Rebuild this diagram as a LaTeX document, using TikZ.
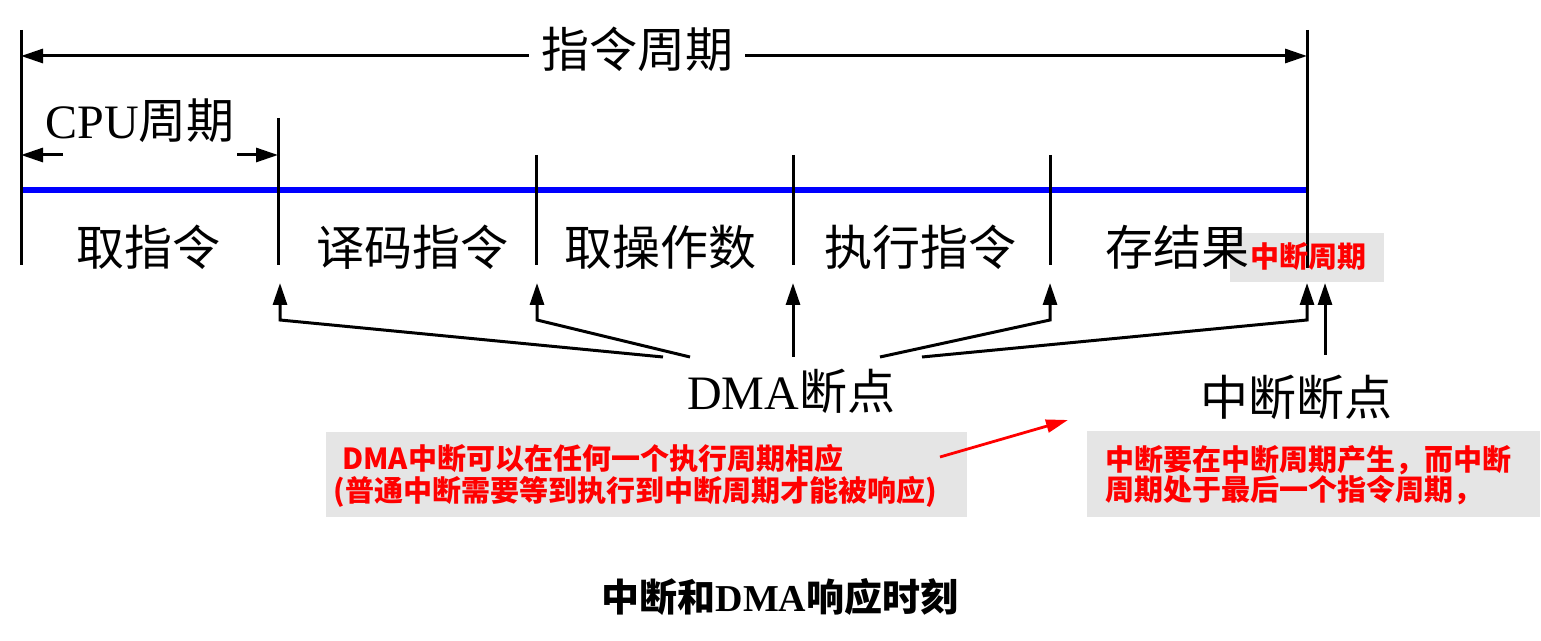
\documentclass[tikz,border=0pt]{standalone}
\usepackage{fontspec}
\setmainfont{Liberation Serif}
\newfontfamily\cjk{Noto Sans CJK SC}
\usetikzlibrary{arrows.meta}
\begin{document}
\begin{tikzpicture}[x=0.5pt,y=-0.5pt,
  big/.style={font=\fontsize{24}{28}\selectfont, inner sep=0pt},
  ln/.style={line width=1.5pt},
  arr/.style={ln,-{Triangle[length=11pt,width=7pt]}},
  redarr/.style={line width=1.4pt,red,-{Triangle[length=11pt,width=6.5pt]}},
  redtxt/.style={text=red,font=\cjk\bfseries\fontsize{14.5}{17}\selectfont, inner sep=0pt},
  graybg/.style={fill=black!10, draw=none, inner sep=0pt}
]
\useasboundingbox (0,0) rectangle (1541,641);

% gray backgrounds
\node[graybg, minimum width=77pt, minimum height=24.5pt] (gint) at (1307,257.5) {};
\node[graybg, minimum width=320.5pt, minimum height=42.5pt] (box1) at (646.5,474.5) {};
\node[graybg, minimum width=226.5pt, minimum height=43pt] (box2) at (1313.5,474) {};

% time line
\coordinate (L) at (21,190);
\coordinate (R) at (1307,190);
\draw[blue, line width=3pt] (L) -- (R);

% vertical boundaries
\coordinate (v0t) at (21,30);   \coordinate (v0b) at (21,265);
\coordinate (v1t) at (278,118); \coordinate (v1b) at (278,265);
\coordinate (v2t) at (536,155); \coordinate (v2b) at (536,265);
\coordinate (v3t) at (793,155); \coordinate (v3b) at (793,265);
\coordinate (v4t) at (1050,155);\coordinate (v4b) at (1050,265);
\coordinate (v5t) at (1307,30); \coordinate (v5b) at (1307,268);
\foreach \i in {0,...,5} {\draw[ln] (v\i t) -- (v\i b);}

% instruction cycle
\node[big] (icyc) at (637,49) {\cjk 指令周期};
\coordinate (tl) at (21,56);
\coordinate (tr) at (1307,56);
\draw[arr] ([xshift=-6pt]icyc.west |- tl) -- (tl);
\draw[arr] ([xshift=6pt]icyc.east |- tr) -- (tr);

% CPU cycle
\node[big] (cpu) at (140,121) {CPU{\cjk 周期}};
\coordinate (cl) at (21,155);
\coordinate (cr) at (278,155);
\draw[arr] (63,155) coordinate (clt) -- (cl);
\draw[arr] (237,155) coordinate (crt) -- (cr);

% stage labels
\node[big] (s1) at (148,247) {\cjk 取指令};
\node[big] (s2) at (412,247) {\cjk 译码指令};
\node[big] (s3) at (660,247) {\cjk 取操作数};
\node[big] (s4) at (920,247) {\cjk 执行指令};
\node[big] (s5) at (1177,247) {\cjk 存结果};

\node[redtxt] (intcyc) at (1308,257) {中断周期};

% breakpoints
\node[big] (dma) at (791,391) {DMA{\cjk 断点}};
\node[big] (intbp) at (1296,397) {\cjk 中断断点};

\coordinate (a1) at (280,283);
\coordinate (a2) at (537,283);
\coordinate (a3) at (793,283);
\coordinate (a4) at (1050,283);
\coordinate (a5) at (1307,283);
\coordinate (a6) at (1325,283);

\coordinate (d1) at (663,357);
\coordinate (d2) at (690,357);
\coordinate (d3) at (793,357);
\coordinate (d4) at (880,357);
\coordinate (d5) at (922,357);
\coordinate (i6) at (1325,355);

\draw[arr] (d1) -- (280,320) -- (a1);
\draw[arr] (d2) -- (537,320) -- (a2);
\draw[arr] (d3) -- (a3);
\draw[arr] (d4) -- (1050,320) -- (a4);
\draw[arr] (d5) -- (1307,320) -- (a5);
\draw[arr] (i6) -- (a6);

% notes
\node[redtxt, anchor=west] (n1a) at (342,458) {DMA中断可以在任何一个执行周期相应};
\node[redtxt, anchor=west] (n1b) at (333,492) {(普通中断需要等到执行到中断周期才能被响应)};
\node[redtxt, anchor=west] (n2a) at (1105,460) {中断要在中断周期产生，而中断};
\node[redtxt, anchor=west] (n2b) at (1105,490) {周期处于最后一个指令周期，};

\coordinate (rs) at (940,457);
\coordinate (re) at (1068,420);
\draw[redarr] (rs) -- (re);

% caption
\node[font=\bfseries\fontsize{19}{23}\selectfont, inner sep=0pt] (cap) at (780,597) {{\cjk 中断和}DMA{\cjk 响应时刻}};
\end{tikzpicture}
\end{document}
